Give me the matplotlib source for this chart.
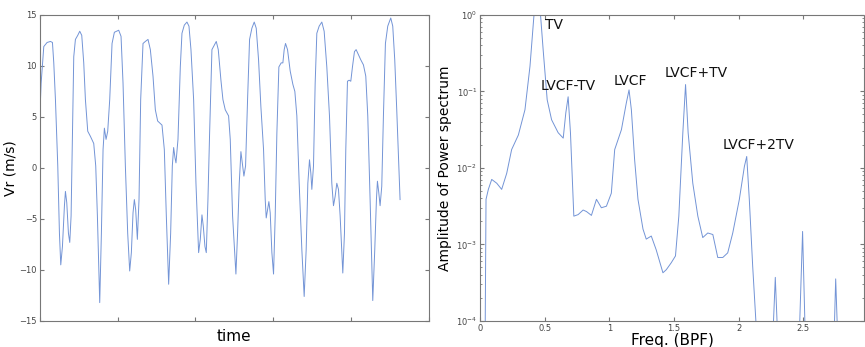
import numpy as np
import matplotlib
matplotlib.use("Agg")
import matplotlib.pyplot as plt
from matplotlib.ticker import LogLocator, NullFormatter

# ── Left panel: radial velocity time trace ─────────────────────
time_idx = [0, 4, 12, 22, 32, 38, 42, 47, 54, 59, 63, 68, 74, 77, 81, 86, 90, 94, 98,
            102, 107, 114, 120, 126, 132, 137, 144, 152, 162, 168, 173, 180, 185, 190,
            194, 199, 204, 210, 217, 224, 237, 244, 250, 257, 264, 270, 275, 280, 284,
            288, 293, 298, 303, 310, 317, 325, 332, 340, 347, 354, 367, 374, 380, 387,
            393, 398, 402, 406, 409, 415, 422, 427, 434, 442, 448, 454, 462, 469, 477,
            482, 487, 491, 496, 500, 505, 510, 517, 522, 530, 536, 544, 550, 557, 567,
            572, 579, 589, 594, 599, 604, 608, 613, 618, 624, 630, 637, 644, 650, 657,
            664, 672, 677, 680, 684, 688, 692, 697, 702, 707, 712, 718, 725, 730, 734,
            738, 744, 752, 760, 766, 772, 779, 787, 794, 800, 805, 810, 814, 817, 822,
            827, 832, 839, 847, 854, 862, 870, 877, 882, 887, 892, 897, 902, 910, 915,
            919, 924, 929, 934, 939, 945, 950, 957, 964, 972, 979, 985, 992, 1000, 1006,
            1011, 1014, 1018, 1022, 1027, 1032, 1038, 1045, 1054, 1060, 1066, 1072, 1082]
vr = [5.0, 8.3, 11.9, 12.3, 12.4, 12.3, 10.3, 6.7, 0.2, -6.4, -9.5, -7.7, -3.7, -2.3,
      -3.4, -6.4, -7.3, -4.7, 3.4, 10.9, 12.6, 13.0, 13.4, 13.0, 10.3, 6.7, 3.6, 3.1,
      2.4, 0.2, -4.7, -13.2, -6.4, 1.8, 3.9, 2.8, 3.6, 6.7, 12.2, 13.3, 13.5, 12.9,
      8.3, 0.2, -6.4, -10.1, -8.3, -4.4, -3.1, -4.1, -7.0, -3.1, 6.7, 12.2, 12.4, 12.6,
      11.6, 9.0, 5.7, 4.6, 4.2, 1.8, -4.7, -11.4, -6.4, 0.2, 2.0, 1.0, 0.5, 2.8, 9.9,
      13.2, 14.0, 14.3, 13.9, 11.6, 6.7, -1.5, -8.3, -7.0, -4.6, -5.7, -7.7, -8.3,
      -3.1, 3.4, 11.6, 11.9, 12.4, 11.6, 8.6, 6.7, 5.7, 5.1, 2.8, -4.7, -10.4, -6.4,
      -1.5, 1.6, 0.5, -0.8, 0.2, 6.7, 12.6, 13.7, 14.3, 13.7, 10.6, 6.0, 1.8, -3.1,
      -4.9, -4.1, -3.3, -4.4, -8.3, -10.4, -4.7, 3.4, 9.9, 10.3, 10.3, 11.6, 12.2,
      11.6, 9.5, 8.2, 7.5, 5.1, -1.5, -8.0, -12.6, -8.0, -1.5, 0.8, -0.5, -2.1, 0.2,
      8.3, 13.2, 13.9, 14.3, 13.4, 9.9, 5.1, -1.5, -3.7, -2.8, -1.5, -2.1, -4.7,
      -10.3, -6.4, 1.8, 8.5, 8.6, 8.5, 9.9, 11.4, 11.6, 11.1, 10.6, 10.1, 9.0, 5.1,
      -3.1, -13.0, -8.0, -3.1, -1.3, -2.4, -3.7, -1.8, 5.1, 12.2, 13.9, 14.7, 13.9,
      10.6, 5.7, -3.1]
vr_ticks = [-15, -10, -5, 0, 5, 10, 15]

# ── Right panel: power spectrum (log10 amplitude) ──────────────
freq = [0.038, 0.046, 0.064, 0.09, 0.129, 0.167, 0.206, 0.244, 0.296, 0.347, 0.386,
        0.416, 0.44, 0.463, 0.488, 0.519, 0.553, 0.604, 0.643, 0.663, 0.681, 0.699,
        0.725, 0.758, 0.797, 0.823, 0.861, 0.9, 0.938, 0.977, 1.015, 1.041, 1.067,
        1.093, 1.131, 1.152, 1.17, 1.195, 1.221, 1.26, 1.285, 1.324, 1.362, 1.414,
        1.44, 1.478, 1.511, 1.537, 1.568, 1.589, 1.609, 1.645, 1.684, 1.722, 1.761,
        1.80, 1.838, 1.877, 1.915, 1.954, 2.005, 2.044, 2.062, 2.082, 2.108, 2.15,
        2.257, 2.283, 2.308, 2.463, 2.494, 2.519, 2.733, 2.75, 2.771]
log_amp = [-4.5, -2.41, -2.28, -2.15, -2.20, -2.28, -2.07, -1.76, -1.57, -1.24, -0.67,
           -0.02, 0.15, 0.1, -0.46, -1.11, -1.37, -1.54, -1.61, -1.28, -1.07, -1.54,
           -2.63, -2.61, -2.55, -2.57, -2.62, -2.41, -2.52, -2.50, -2.33, -1.76, -1.63,
           -1.50, -1.15, -0.98, -1.24, -1.89, -2.41, -2.80, -2.93, -2.89, -3.07, -3.37,
           -3.33, -3.24, -3.15, -2.63, -1.54, -0.91, -1.54, -2.20, -2.63, -2.91, -2.85,
           -2.87, -3.17, -3.17, -3.11, -2.85, -2.41, -1.98, -1.85, -2.41, -3.28, -4.5,
           -4.5, -3.43, -4.5, -4.5, -2.83, -4.5, -4.5, -3.45, -4.5]
peak_labels = ["TV", "LVCF-TV", "LVCF", "LVCF+TV", "LVCF+2TV"]
label_freq = [0.50, 0.47, 1.03, 1.43, 1.877]
label_log = [-0.13, -0.93, -0.87, -0.76, -1.70]
freq_ticks = [0, 0.5, 1, 1.5, 2, 2.5]
freq_ticklabels = ["0", "0.5", "1", "1.5", "2", "2.5"]

LINE = "#7394d6"
FRAME = "#777777"

fig = plt.figure(figsize=(8.65, 3.47), dpi=100)
ax1 = fig.add_axes([0.046, 0.075, 0.450, 0.882])
ax2 = fig.add_axes([0.555, 0.075, 0.444, 0.882])

for ax in (ax1, ax2):
    for sp in ax.spines.values():
        sp.set_color(FRAME)
        sp.set_linewidth(0.8)
        sp.set_linestyle((0, (1, 1)))
    ax.tick_params(direction="in", top=True, right=True, length=3,
                   colors=FRAME, labelsize=6, labelcolor="#444444", pad=2)
    ax.tick_params(which="minor", direction="in", right=True, length=1.5,
                   colors=FRAME)

# left
ax1.plot(time_idx, vr, color=LINE, linewidth=0.7)
ax1.set_xlim(0, 1169)
ax1.set_ylim(-15, 15)
ax1.set_xticks(np.linspace(0, 1169, 6))
ax1.set_xticklabels([])
ax1.set_yticks(vr_ticks)
ax1.set_xlabel("time", fontsize=11, labelpad=4)
ax1.set_ylabel("Vr (m/s)", fontsize=10)
ax1.yaxis.set_label_coords(-0.057, 0.5)

# right
ax2.semilogy(freq, np.power(10.0, log_amp), color=LINE, linewidth=0.7)
ax2.set_xlim(0, 2.97)
ax2.set_ylim(1e-4, 1)
ax2.set_xticks(freq_ticks)
ax2.set_xticklabels(freq_ticklabels)
ax2.yaxis.set_major_locator(LogLocator(base=10, numticks=10))
ax2.yaxis.set_minor_locator(LogLocator(base=10, subs=np.arange(2, 10), numticks=20))
ax2.yaxis.set_minor_formatter(NullFormatter())
ax2.set_xlabel("Freq. (BPF)", fontsize=11, labelpad=0)
ax2.set_ylabel("Amplitude of Power spectrum", fontsize=10)
ax2.yaxis.set_label_coords(-0.074, 0.5)

for txt, fx, ly in zip(peak_labels, label_freq, label_log):
    ax2.text(fx, 10 ** ly, txt, fontsize=10, ha="left", va="center", color="#111111")

fig.savefig("out.png", dpi=100)
